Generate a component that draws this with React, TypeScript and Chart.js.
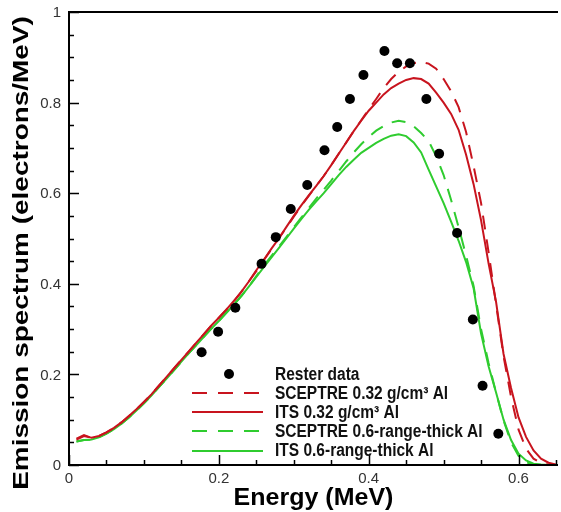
import { useEffect, useRef } from "react";
import { Chart, registerables } from "chart.js";
Chart.register(...registerables);

const energy = [
  0.01, 0.02, 0.03, 0.04, 0.05, 0.06, 0.07, 0.08, 0.09, 0.10,
  0.11, 0.12, 0.13, 0.14, 0.15, 0.16, 0.17, 0.18, 0.19, 0.20,
  0.21, 0.22, 0.23, 0.24, 0.25, 0.26, 0.27, 0.28, 0.29, 0.30,
  0.31, 0.32, 0.33, 0.34, 0.35, 0.36, 0.37, 0.38, 0.39, 0.40,
  0.41, 0.42, 0.43, 0.44, 0.45, 0.46, 0.47, 0.48, 0.49, 0.50,
  0.51, 0.52, 0.53, 0.54, 0.55, 0.56, 0.57, 0.58, 0.59, 0.60,
  0.61, 0.62, 0.63, 0.64, 0.65,
];

const sceptre032 = [
  0.056, 0.064, 0.060, 0.064, 0.072, 0.082, 0.094, 0.108, 0.123, 0.139,
  0.156, 0.175, 0.194, 0.213, 0.232, 0.251, 0.270, 0.289, 0.308, 0.325,
  0.343, 0.362, 0.382, 0.405, 0.428, 0.452, 0.476, 0.500, 0.524, 0.548,
  0.572, 0.594, 0.616, 0.638, 0.662, 0.687, 0.712, 0.737, 0.761, 0.785,
  0.808, 0.832, 0.852, 0.868, 0.880, 0.887, 0.890, 0.886, 0.875, 0.852,
  0.825, 0.790, 0.735, 0.660, 0.578, 0.470, 0.355, 0.240, 0.150, 0.078,
  0.036, 0.014, 0.004, 0.001, 0.000,
];

const its032 = [
  0.058, 0.066, 0.060, 0.064, 0.072, 0.082, 0.094, 0.108, 0.123, 0.139,
  0.156, 0.175, 0.194, 0.213, 0.232, 0.251, 0.270, 0.289, 0.308, 0.325,
  0.343, 0.362, 0.382, 0.405, 0.430, 0.453, 0.477, 0.500, 0.525, 0.550,
  0.573, 0.595, 0.616, 0.638, 0.662, 0.687, 0.712, 0.737, 0.760, 0.782,
  0.800, 0.818, 0.832, 0.842, 0.850, 0.854, 0.852, 0.842, 0.822, 0.800,
  0.775, 0.740, 0.685, 0.620, 0.540, 0.445, 0.360, 0.245, 0.170, 0.105,
  0.062, 0.032, 0.014, 0.005, 0.001,
];

const sceptre06 = [
  0.052, 0.055, 0.056, 0.061, 0.069, 0.079, 0.091, 0.105, 0.120, 0.136,
  0.153, 0.172, 0.190, 0.209, 0.228, 0.247, 0.265, 0.283, 0.301, 0.318,
  0.336, 0.354, 0.373, 0.394, 0.417, 0.440, 0.461, 0.482, 0.503, 0.525,
  0.546, 0.567, 0.588, 0.608, 0.628, 0.649, 0.670, 0.690, 0.708, 0.724,
  0.738, 0.748, 0.756, 0.760, 0.757, 0.748, 0.733, 0.715, 0.682, 0.640,
  0.585, 0.525, 0.462, 0.395, 0.300, 0.225, 0.160, 0.098, 0.050, 0.020,
  0.006, 0.001, 0.000, 0.000, 0.000,
];

const its06 = [
  0.052, 0.055, 0.056, 0.061, 0.069, 0.079, 0.091, 0.105, 0.120, 0.136,
  0.153, 0.172, 0.190, 0.209, 0.228, 0.247, 0.265, 0.283, 0.301, 0.318,
  0.336, 0.354, 0.373, 0.394, 0.415, 0.437, 0.458, 0.479, 0.500, 0.522,
  0.543, 0.563, 0.582, 0.600, 0.620, 0.640, 0.658, 0.674, 0.689, 0.700,
  0.711, 0.720, 0.727, 0.730, 0.726, 0.712, 0.690, 0.652, 0.615, 0.578,
  0.537, 0.495, 0.448, 0.390, 0.290, 0.218, 0.160, 0.100, 0.055, 0.025,
  0.010, 0.003, 0.001, 0.000, 0.000,
];

const resterEnergy = [
  0.177, 0.199, 0.222, 0.257, 0.276, 0.296, 0.318, 0.341, 0.358, 0.375,
  0.393, 0.421, 0.438, 0.455, 0.477, 0.494, 0.518, 0.539, 0.552, 0.573,
];
const resterValue = [
  0.249, 0.294, 0.347, 0.444, 0.503, 0.565, 0.618, 0.695, 0.746, 0.808,
  0.861, 0.914, 0.887, 0.887, 0.808, 0.687, 0.512, 0.321, 0.175, 0.069,
];

const xTickLabels = ["0", "0.2", "0.4", "0.6"];
const xTickValues = [0, 0.2, 0.4, 0.6];
const yTickLabels = ["0", "0.2", "0.4", "0.6", "0.8", "1"];
const yTickValues = [0, 0.2, 0.4, 0.6, 0.8, 1];
const minorStep = 0.05;

const legendLabels = [
  "Rester data",
  "SCEPTRE 0.32 g/cm³ Al",
  "ITS 0.32 g/cm³ Al",
  "SCEPTRE 0.6-range-thick Al",
  "ITS 0.6-range-thick Al",
];

const RED = "#c8141e";
const GREEN = "#2fcc2f";
const FONT = "'Liberation Sans', Arial, Helvetica, sans-serif";

function stretchedText(
  ctx: CanvasRenderingContext2D,
  text: string,
  x: number,
  y: number,
  font: string,
  sy: number,
  align: CanvasTextAlign,
  baseline: CanvasTextBaseline,
  color: string
) {
  ctx.save();
  ctx.translate(x, y);
  ctx.scale(1, sy);
  ctx.font = font;
  ctx.fillStyle = color;
  ctx.textAlign = align;
  ctx.textBaseline = baseline;
  ctx.fillText(text, 0, 0);
  ctx.restore();
}

const decorPlugin = {
  id: "decor",
  afterDraw(chart: any) {
    const ctx: CanvasRenderingContext2D = chart.ctx;
    const { left, right, top, bottom } = chart.chartArea;
    const xs = chart.scales.x;
    const ys = chart.scales.y;
    ctx.save();
    // frame
    ctx.strokeStyle = "#000";
    ctx.lineWidth = 2;
    ctx.beginPath();
    ctx.moveTo(left, top);
    ctx.lineTo(right + 2, top);
    ctx.moveTo(left, top - 1);
    ctx.lineTo(left, bottom + 1);
    ctx.moveTo(left - 1, bottom);
    ctx.lineTo(right + 2, bottom);
    ctx.stroke();
    // ticks
    ctx.lineWidth = 1.5;
    ctx.beginPath();
    for (let i = 0; i * minorStep <= 0.65 + 1e-9; i++) {
      const v = i * minorStep;
      const major = i % 4 === 0;
      const len = major ? 10 : 5;
      const px = Math.round(xs.getPixelForValue(v)) + 0.5;
      ctx.moveTo(px, bottom);
      ctx.lineTo(px, bottom - len);
    }
    for (let i = 0; i * minorStep <= 1 + 1e-9; i++) {
      const v = i * minorStep;
      const major = i % 4 === 0;
      const len = major ? 10 : 5;
      const py = Math.round(ys.getPixelForValue(v)) + 0.5;
      ctx.moveTo(left, py);
      ctx.lineTo(left + len, py);
    }
    ctx.stroke();
    // tick labels
    const tickFont = `15px ${FONT}`;
    xTickValues.forEach((v, i) => {
      const px = xs.getPixelForValue(v);
      stretchedText(ctx, xTickLabels[i], px, bottom + 14, tickFont, 1, "center", "middle", "#333");
    });
    yTickValues.forEach((v, i) => {
      const py = ys.getPixelForValue(v);
      stretchedText(ctx, yTickLabels[i], left - 8, py + 1, tickFont, 1, "right", "middle", "#333");
    });
    // axis titles
    stretchedText(ctx, "Energy (MeV)", (left + right) / 2 + 1, 505, `bold 25px ${FONT}`, 0.93, "center", "alphabetic", "#000");
    ctx.save();
    ctx.translate(28, 253);
    ctx.rotate(-Math.PI / 2);
    ctx.scale(1.3, 1);
    ctx.font = `bold 21.5px ${FONT}`;
    ctx.fillStyle = "#000";
    ctx.textAlign = "center";
    ctx.textBaseline = "alphabetic";
    ctx.fillText("Emission spectrum (electrons/MeV)", 0, 0);
    ctx.restore();
    // legend
    const lx0 = 192;
    const lx1 = 263;
    const tx = 275;
    const lineYs = [374, 393, 412, 431, 451];
    const baseYs = [380, 399, 418, 437, 456];
    const styles = [
      null,
      { color: RED, dash: [15, 11] },
      { color: RED, dash: [] },
      { color: GREEN, dash: [15, 11] },
      { color: GREEN, dash: [] },
    ];
    styles.forEach((s, i) => {
      if (!s) {
        ctx.beginPath();
        ctx.fillStyle = "#000";
        ctx.arc(229, lineYs[i], 5, 0, Math.PI * 2);
        ctx.fill();
      } else {
        ctx.beginPath();
        ctx.strokeStyle = s.color;
        ctx.lineWidth = 2.2;
        ctx.setLineDash(s.dash);
        ctx.moveTo(lx0, lineYs[i]);
        ctx.lineTo(lx1, lineYs[i]);
        ctx.stroke();
        ctx.setLineDash([]);
      }
      stretchedText(ctx, legendLabels[i], tx, baseYs[i], `bold 15.5px ${FONT}`, 1.15, "left", "alphabetic", "#111");
    });
    ctx.restore();
  },
};

export default function App() {
  const ref = useRef<HTMLCanvasElement>(null);
  useEffect(() => {
    if (!ref.current) return;
    const toXY = (xsArr: number[], ysArr: number[]) => xsArr.map((x, i) => ({ x, y: ysArr[i] }));
    const line = (label: string, data: number[], color: string, dashed: boolean) => ({
      label,
      data: toXY(energy, data),
      showLine: true,
      pointRadius: 0,
      borderColor: color,
      borderWidth: 2,
      borderDash: dashed ? [14, 10] : [],
      tension: 0,
    });
    const chart = new Chart(ref.current, {
      type: "scatter",
      data: {
        datasets: [
          {
            label: legendLabels[0],
            data: toXY(resterEnergy, resterValue),
            showLine: false,
            pointRadius: 5,
            pointBackgroundColor: "#000",
            pointBorderColor: "#000",
            pointBorderWidth: 0,
          },
          line(legendLabels[1], sceptre032, RED, true),
          line(legendLabels[2], its032, RED, false),
          line(legendLabels[3], sceptre06, GREEN, true),
          line(legendLabels[4], its06, GREEN, false),
        ],
      },
      options: {
        responsive: false,
        animation: false,
        events: [],
        layout: { padding: { top: 12, right: 0, left: 0, bottom: 0 } },
        plugins: { legend: { display: false }, tooltip: { enabled: false } },
        scales: {
          x: {
            type: "linear",
            min: 0,
            max: 0.65,
            grid: { display: false, drawTicks: false },
            border: { display: false },
            ticks: { display: false, stepSize: 0.05 },
            afterFit: (s: any) => {
              s.height = 47;
            },
          },
          y: {
            type: "linear",
            min: 0,
            max: 1,
            grid: { display: false, drawTicks: false },
            border: { display: false },
            ticks: { display: false, stepSize: 0.05 },
            afterFit: (s: any) => {
              s.width = 69;
            },
          },
        },
      },
      plugins: [decorPlugin],
    } as any);
    return () => chart.destroy();
  }, []);
  return (
    <div style={{ position: "fixed", left: 0, top: 0, width: 561, height: 512, background: "#fff" }}>
      <canvas ref={ref} width={561} height={512} style={{ display: "block" }} />
    </div>
  );
}
